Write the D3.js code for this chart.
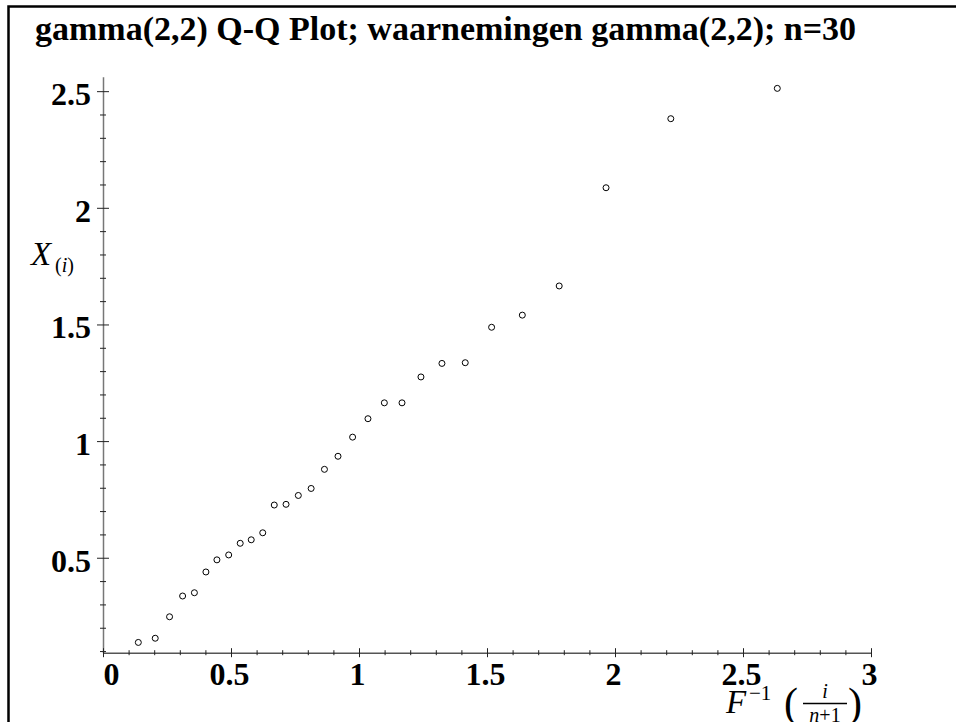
<!DOCTYPE html>
<html><head><meta charset="utf-8">
<script src="https://cdn.jsdelivr.net/npm/d3@7"></script>
<style>html,body{margin:0;padding:0;background:#fff;} svg{display:block}</style>
</head><body>
<svg id="c" width="956" height="722"></svg>
<script>
const chartTitle = "gamma(2,2) Q-Q Plot; waarnemingen gamma(2,2); n=30";
const theoreticalQuantiles = [0.138,0.204,0.260,0.311,0.357,0.402,0.445,0.491,0.536,0.579,0.624,0.669,0.715,0.763,0.813,0.865,0.918,0.975,1.035,1.099,1.168,1.242,1.324,1.415,1.518,1.638,1.782,1.965,2.218,2.634];
const observedValues = [0.137,0.155,0.247,0.336,0.350,0.439,0.491,0.512,0.562,0.577,0.607,0.726,0.729,0.767,0.797,0.879,0.935,1.017,1.096,1.164,1.164,1.275,1.333,1.336,1.488,1.540,1.665,2.086,2.382,2.512];
const xTicks = [0,0.5,1,1.5,2,2.5,3];
const xTickLabels = ["0","0.5","1","1.5","2","2.5","3"];
const yTicks = [0.5,1,1.5,2,2.5];
const yTickLabels = ["0.5","1","1.5","2","2.5"];
const xMinorTicks = [0.1,0.2,0.3,0.4,0.6,0.7,0.8,0.9,1.1,1.2,1.3,1.4,1.6,1.7,1.8,1.9,2.1,2.2,2.3,2.4,2.6,2.7,2.8,2.9];
const yMinorTicks = [0.1,0.2,0.3,0.4,0.6,0.7,0.8,0.9,1.1,1.2,1.3,1.4,1.6,1.7,1.8,1.9,2.1,2.2,2.3,2.4];
const xDomain = [0, 3];
const yDomain = [0.093, 2.562];

const svg = d3.select("#c");
const serif = "'Liberation Serif','Times New Roman',serif";
const x = d3.scaleLinear().domain(xDomain).range([103, 871]);
const y = d3.scaleLinear().domain(yDomain).range([652.7, 76.7]);

// frame (top & left)
svg.append("path").attr("d","M8.5,722 V6.5 H956").attr("fill","none").attr("stroke","#000").attr("stroke-width",2.5);

// title
svg.append("text").attr("x",35).attr("y",40)
  .attr("font-family",serif).attr("font-weight","bold").attr("font-size",34)
  .attr("fill","#000").text(chartTitle);

// y axis
const yAxisG = svg.append("g").attr("transform","translate(103,0)");
yAxisG.call(d3.axisLeft(y).tickValues(yMinorTicks).tickSize(3).tickSizeOuter(0).tickFormat(""));
yAxisG.selectAll(".tick line").attr("x1",3).attr("x2",-3).attr("stroke","#222");
yAxisG.select(".domain").attr("stroke","#777").attr("stroke-width",1.5);
const yMajorG = svg.append("g").attr("transform","translate(103,0)");
yMajorG.call(d3.axisLeft(y).tickValues(yTicks).tickSize(6).tickPadding(6).tickSizeOuter(0)
  .tickFormat((d,i)=>yTickLabels[i]));
yMajorG.select(".domain").remove();
yMajorG.selectAll(".tick line").attr("x1",6).attr("x2",-6).attr("stroke","#222");
yMajorG.selectAll(".tick text").attr("dy","0.42em").attr("font-family",serif)
  .attr("font-weight","bold").attr("font-size",32).attr("fill","#000");

// x axis
const xAxisG = svg.append("g").attr("transform",`translate(0,${y(yDomain[0])})`);
xAxisG.call(d3.axisBottom(x).tickValues(xMinorTicks).tickSize(2.5).tickSizeOuter(0).tickFormat(""));
xAxisG.selectAll(".tick line").attr("y1",-2.5).attr("y2",2.5).attr("stroke","#222");
xAxisG.select(".domain").attr("stroke","#555").attr("stroke-width",1.5);
const xMajorG = svg.append("g").attr("transform",`translate(0,${y(yDomain[0])})`);
xMajorG.call(d3.axisBottom(x).tickValues(xTicks).tickSize(4.5).tickSizeOuter(0)
  .tickFormat((d,i)=>xTickLabels[i]));
xMajorG.select(".domain").remove();
xMajorG.selectAll(".tick line").attr("y1",-4.5).attr("y2",4.5).attr("stroke","#222");
xMajorG.selectAll(".tick text").attr("y",32).attr("dy",0).attr("dx",(d,i)=> i===0?0:-2)
  .attr("text-anchor",(d,i)=> i===0?"start":"middle")
  .attr("font-family",serif).attr("font-weight","bold").attr("font-size",32).attr("fill","#000");

// points
svg.append("g").selectAll("circle").data(theoreticalQuantiles).join("circle")
  .attr("cx",d=>x(d)).attr("cy",(d,i)=>y(observedValues[i])).attr("r",3)
  .attr("fill","#fff").attr("stroke","#000").attr("stroke-width",1);

// y label X_(i)
svg.append("text").attr("x",31).attr("y",265).attr("font-family",serif)
  .attr("font-style","italic").attr("font-size",33).attr("fill","#000").text("X");
const sub = svg.append("text").attr("x",55).attr("y",272).attr("font-family",serif)
  .attr("font-size",20).attr("fill","#000");
sub.append("tspan").text("(");
sub.append("tspan").attr("font-style","italic").text("i");
sub.append("tspan").text(")");

// x label F^{-1}(i/(n+1))
const lab = svg.append("g").attr("font-family",serif).attr("fill","#000");
lab.append("text").attr("x",726).attr("y",713).attr("font-style","italic").attr("font-size",33).text("F");
lab.append("text").attr("x",749).attr("y",700).attr("font-size",21).text("\u22121");
lab.append("text").attr("x",784).attr("y",717).attr("font-size",42).text("(");
lab.append("text").attr("x",825).attr("y",698).attr("text-anchor","middle").attr("font-style","italic").attr("font-size",20).text("i");
lab.append("line").attr("x1",803).attr("x2",847).attr("y1",703.5).attr("y2",703.5).attr("stroke","#000").attr("stroke-width",1.5);
const den = lab.append("text").attr("x",825).attr("y",722).attr("text-anchor","middle").attr("font-size",20);
den.append("tspan").attr("font-style","italic").text("n");
den.append("tspan").text("+1");
lab.append("text").attr("x",848).attr("y",717).attr("font-size",42).text(")");
</script>
</body></html>
